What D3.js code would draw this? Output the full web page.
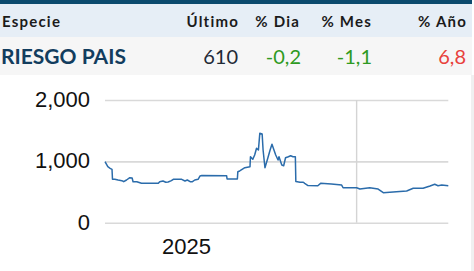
<!DOCTYPE html>
<html lang="es">
<head>
    <meta charset="UTF-8">
    <title>Riesgo País</title>
    <script src="https://d3js.org/d3.v7.min.js"></script>
    <style>
        html, body { margin: 0; padding: 0; background: #fff; }
        svg { display: block; }
        .hdr { font-family: Lato, sans-serif; font-size: 15px; font-weight: 700; letter-spacing: 1.2px; fill: #1b1b1b; }
        .val { font-family: Lato, sans-serif; font-size: 20px; fill: #1f2a36; }
        .name { font-family: Lato, sans-serif; font-size: 21px; font-weight: 700; fill: #123d5e; }
        .tick text { font-family: "Liberation Sans", Arial, sans-serif; font-size: 22px; fill: #111; }
    </style>
</head>
<body>
<svg id="chart" width="474" height="271"></svg>
<script>
    // table
    const headers = ["Especie", "Último", "% Dia", "% Mes", "% Año"];
    const rowName = "RIESGO PAIS";
    const rowValues = ["610", "-0,2", "-1,1", "6,8"];
    const rowColors = ["#1f2a36", "#2e9a22", "#2e9a22", "#e8413b"];

    // series
    const dates = [
        "2024-07-12", "2024-07-18", "2024-07-23", "2024-07-27", "2024-07-28", "2024-08-02", "2024-08-09", "2024-08-17",
        "2024-08-21", "2024-08-27", "2024-09-03", "2024-09-08", "2024-09-10", "2024-09-18", "2024-09-28", "2024-10-16",
        "2024-11-03", "2024-11-06", "2024-11-13", "2024-11-19", "2024-11-24", "2024-12-01", "2024-12-05", "2024-12-23",
        "2024-12-30", "2025-01-04", "2025-01-10", "2025-01-15", "2025-01-20", "2025-01-27", "2025-01-31", "2025-02-04",
        "2025-03-29", "2025-03-30", "2025-04-21", "2025-04-22", "2025-04-26", "2025-05-07", "2025-05-18", "2025-05-19",
        "2025-05-24", "2025-05-28", "2025-06-01", "2025-06-05", "2025-06-08", "2025-06-13", "2025-06-15", "2025-06-19",
        "2025-06-25", "2025-06-30", "2025-07-04", "2025-07-09", "2025-07-12", "2025-07-17", "2025-07-19", "2025-07-25",
        "2025-07-29", "2025-08-02", "2025-08-08", "2025-08-13", "2025-08-18", "2025-08-23", "2025-08-24", "2025-09-02",
        "2025-09-09", "2025-09-12", "2025-09-19", "2025-10-10", "2025-10-16", "2025-11-08", "2025-11-30", "2025-12-03",
        "2026-01-01", "2026-01-08", "2026-01-29", "2026-02-16", "2026-02-27", "2026-03-27", "2026-04-18", "2026-05-02",
        "2026-05-23", "2026-06-07", "2026-06-17", "2026-06-24", "2026-07-02", "2026-07-16"
    ];
    const values = [
        994, 913, 887, 870, 707, 707, 696, 685,
        668, 696, 733, 729, 668, 668, 642, 642,
        642, 668, 680, 659, 663, 685, 707, 707,
        680, 696, 668, 668, 696, 707, 761, 769,
        766, 712, 712, 831, 843, 896, 913, 1076,
        1033, 1103, 1213, 1185, 1457, 1446, 1185, 896,
        1050, 1185, 1278, 1169, 1103, 1022, 1076, 940,
        929, 1059, 1076, 1092, 1076, 1076, 672, 659,
        659, 642, 606, 603, 642, 631, 614, 570,
        570, 549, 570, 549, 489, 505, 517, 561,
        561, 598, 626, 603, 614, 603
    ];

    const yTicks = [0, 1000, 2000];
    const xTickDates = ["2025-01-01"];
    const xTickLabels = ["2025"];
    const xGridDates = ["2026-01-01"];

    const parse = d3.timeParse("%Y-%m-%d");
    const series = dates.map((d, i) => ({ date: parse(d), value: values[i] }));

    const svg = d3.select("#chart");

    // header and row backgrounds
    svg.append("rect").attr("x", 0).attr("y", 0).attr("width", 472).attr("height", 4).attr("fill", "#0b4a6e");
    svg.append("rect").attr("x", 0).attr("y", 4).attr("width", 472).attr("height", 33).attr("fill", "#e6eef6");
    svg.append("rect").attr("x", 0).attr("y", 37).attr("width", 472).attr("height", 38).attr("fill", "#f6f6f6");
    svg.append("rect").attr("x", 471).attr("y", 75).attr("width", 3).attr("height", 196).attr("fill", "#f0f0f0");

    const colRight = [null, 239, 300, 372, 467];
    svg.selectAll(".hdr").data(headers).enter().append("text")
        .attr("class", "hdr")
        .attr("x", (d, i) => i === 0 ? 2 : colRight[i])
        .attr("y", 27)
        .attr("text-anchor", (d, i) => i === 0 ? "start" : "end")
        .text(d => d);

    svg.append("text").attr("class", "name").attr("x", 1).attr("y", 64).text(rowName);
    const valRight = [238, 301, 372, 466];
    svg.selectAll(".val").data(rowValues).enter().append("text")
        .attr("class", "val")
        .attr("x", (d, i) => valRight[i])
        .attr("y", 64)
        .attr("text-anchor", "end")
        .style("fill", (d, i) => rowColors[i])
        .text(d => d);

    // chart
    const x = d3.scaleTime()
        .domain([parse("2024-07-12"), parse("2026-07-16")])
        .range([105, 448.3]);
    const y = d3.scaleLinear()
        .domain([0, 2000])
        .range([222.7, 100]);

    const yAxis = svg.append("g")
        .attr("transform", "translate(105,0)")
        .call(d3.axisLeft(y)
            .tickValues(yTicks)
            .tickFormat(d3.format(","))
            .tickSize(-(x.range()[1] - x.range()[0]))
            .tickPadding(15));
    yAxis.select(".domain").remove();
    yAxis.selectAll(".tick line").attr("stroke", "#d9d9d9").attr("stroke-width", 1.6);
    yAxis.selectAll(".tick text").attr("dy", "0.3em");

    svg.selectAll(".vgrid").data(xGridDates).enter().append("line")
        .attr("class", "vgrid")
        .attr("x1", d => x(parse(d))).attr("x2", d => x(parse(d)))
        .attr("y1", y(2000)).attr("y2", y(0))
        .attr("stroke", "#d4d4d4").attr("stroke-width", 1.4);

    const xAxis = svg.append("g")
        .attr("transform", `translate(0,${y(0)})`)
        .call(d3.axisBottom(x)
            .tickValues(xTickDates.map(parse))
            .tickFormat((d, i) => xTickLabels[i])
            .tickSize(0)
            .tickPadding(16));
    xAxis.select(".domain").remove();

    const line = d3.line()
        .x(d => x(d.date))
        .y(d => y(d.value));
    svg.append("path")
        .datum(series)
        .attr("fill", "none")
        .attr("stroke", "#2b6cab")
        .attr("stroke-width", 1.5)
        .attr("stroke-linejoin", "round")
        .attr("d", line);
</script>
</body>
</html>
